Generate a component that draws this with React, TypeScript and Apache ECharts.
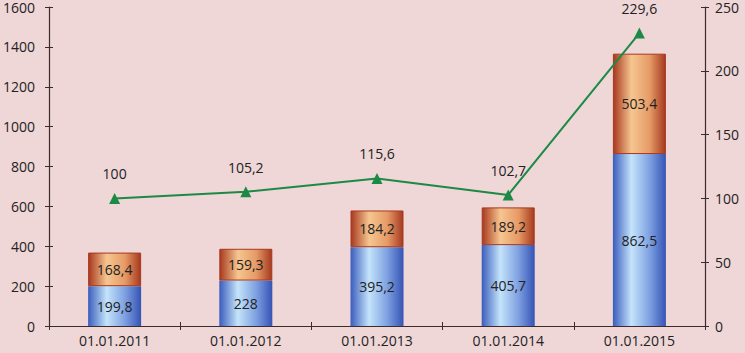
import React, { useEffect, useRef } from "react";
import * as echarts from "echarts";

const categories = ["01.01.2011", "01.01.2012", "01.01.2013", "01.01.2014", "01.01.2015"];
const lowerValues = [199.8, 228, 395.2, 405.7, 862.5];
const upperValues = [168.4, 159.3, 184.2, 189.2, 503.4];
const indexValues = [100, 105.2, 115.6, 102.7, 229.6];

const fmt = (v: number) => String(v).replace(".", ",");

export default function App() {
  const ref = useRef<HTMLDivElement>(null);
  useEffect(() => {
    if (!ref.current) return;
    const chart = echarts.init(ref.current, undefined, { renderer: "svg" });
    const font = "'Open Sans', 'Liberation Sans', sans-serif";
    const axisColor = "#3b2b2d";
    const fs = 14;
    const blue = new echarts.graphic.LinearGradient(0, 0, 1, 0, [
      { offset: 0, color: "#3a5cbc" },
      { offset: 0.35, color: "#c4e4fb" },
      { offset: 0.7, color: "#7d9fe0" },
      { offset: 1, color: "#3553b5" },
    ]);
    const orange = new echarts.graphic.LinearGradient(0, 0, 1, 0, [
      { offset: 0, color: "#a8391f" },
      { offset: 0.35, color: "#f6c690" },
      { offset: 0.7, color: "#e69a66" },
      { offset: 1, color: "#a53a1f" },
    ]);
    const dataLabel = (pos: string, extra: any = {}) => ({
      show: true,
      position: pos,
      color: "#222",
      fontSize: fs,
      fontFamily: font,
      formatter: (p: any) => fmt(p.value),
      ...extra,
    });
    chart.setOption({
      animation: false,
      backgroundColor: "#efd6d7",
      textStyle: { fontFamily: font },
      grid: { left: 48, right: 40, top: 6, bottom: 27 },
      xAxis: [
        {
          type: "category",
          data: categories,
          axisLine: { lineStyle: { color: axisColor, width: 1.2 } },
          axisTick: { show: true, length: 4, lineStyle: { color: axisColor } },
          axisLabel: { color: "#222", fontSize: fs, margin: 7, fontFamily: font },
        },
        {
          type: "category",
          data: categories,
          position: "bottom",
          axisLine: { show: false },
          axisTick: { show: true, inside: true, length: 4, lineStyle: { color: axisColor } },
          axisLabel: { show: false },
        },
      ],
      yAxis: [
        {
          type: "value",
          min: 0,
          max: 1600,
          interval: 200,
          position: "left",
          splitLine: { show: false },
          axisLine: { show: true, lineStyle: { color: axisColor, width: 1.2 } },
          axisTick: { show: true, length: 4, lineStyle: { color: axisColor } },
          axisLabel: {
            color: "#222",
            fontSize: fs,
            margin: 14,
            fontFamily: font,
            formatter: (v: number) => String(v),
          },
        },
        {
          type: "value",
          min: 0,
          max: 250,
          interval: 50,
          position: "right",
          splitLine: { show: false },
          axisLine: { show: true, lineStyle: { color: axisColor, width: 1.2 } },
          axisTick: { show: true, length: 4, lineStyle: { color: axisColor } },
          axisLabel: {
            color: "#222",
            fontSize: fs,
            margin: 10,
            fontFamily: font,
            formatter: (v: number) => String(v),
          },
        },
        {
          type: "value",
          min: 0,
          max: 1600,
          interval: 200,
          position: "left",
          splitLine: { show: false },
          axisLine: { show: false },
          axisTick: { show: true, inside: true, length: 4, lineStyle: { color: axisColor } },
          axisLabel: { show: false },
        },
        {
          type: "value",
          min: 0,
          max: 250,
          interval: 50,
          position: "right",
          splitLine: { show: false },
          axisLine: { show: false },
          axisTick: { show: true, inside: true, length: 4, lineStyle: { color: axisColor } },
          axisLabel: { show: false },
        },
      ],
      series: [
        {
          type: "bar",
          stack: "total",
          data: lowerValues,
          barWidth: 53,
          itemStyle: { color: blue },
          label: dataLabel("inside"),
        },
        {
          type: "bar",
          stack: "total",
          data: upperValues,
          barWidth: 53,
          itemStyle: { color: orange, borderColor: "#a8391f", borderWidth: 1 },
          label: dataLabel("inside"),
        },
        {
          type: "line",
          yAxisIndex: 1,
          data: indexValues,
          symbol: "triangle",
          symbolSize: 11,
          lineStyle: { color: "#1b8a45", width: 2 },
          itemStyle: { color: "#1b8a45" },
          label: dataLabel("top", { distance: 12 }),
          z: 5,
        },
      ],
    });
    return () => chart.dispose();
  }, []);
  return (
    <div
      ref={ref}
      style={{ position: "fixed", left: 0, top: 0, width: 745, height: 353 }}
    />
  );
}
